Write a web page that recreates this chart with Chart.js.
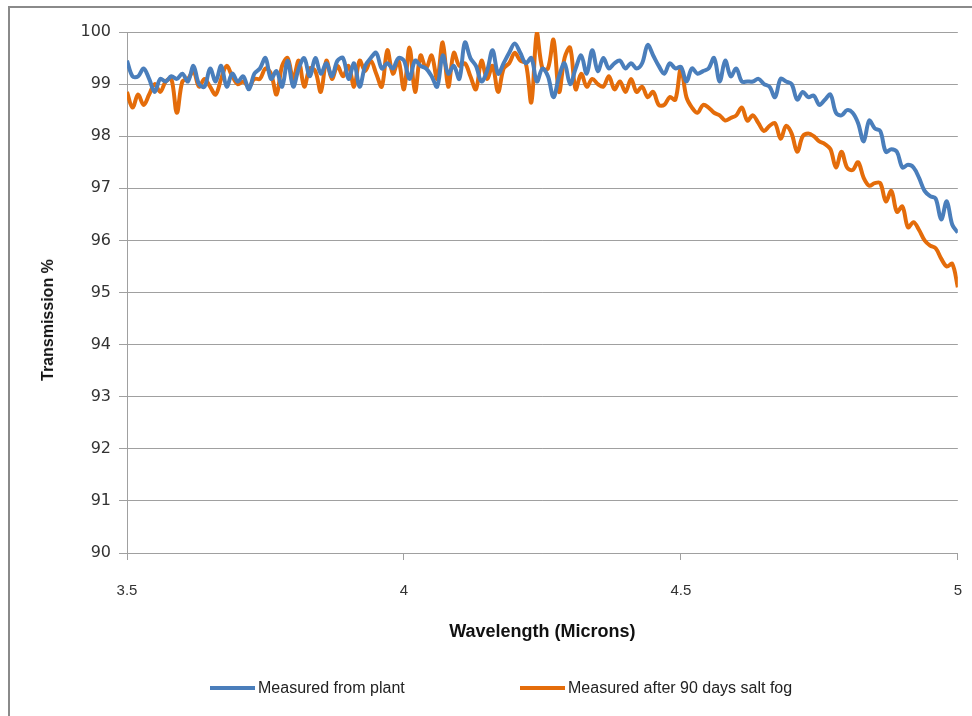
<!DOCTYPE html>
<html>
<head>
<meta charset="utf-8">
<script src="https://cdn.jsdelivr.net/npm/chart.js@4.4.1/dist/chart.umd.min.js"></script>
<style>
  html, body { margin: 0; padding: 0; background: #fff; overflow: hidden; }
  #wrap { position: relative; width: 972px; height: 716px; overflow: hidden; }
  #frame { position: absolute; left: 8px; top: 6px; width: 1000px; height: 800px;
           border: 2px solid #8a8a8a; box-sizing: border-box; }
  canvas { position: absolute; left: 0; top: 0; }
  .leg { position: absolute; top: 678px; height: 20px; display: flex; align-items: center;
         font-family: "Liberation Sans", Arial, sans-serif; font-size: 16px; color: #222; }
  .leg span.sw { display: inline-block; width: 45px; height: 4px; margin-right: 3px; }
  #titulo-y { position: absolute; left: 48px; top: 320px; transform: translate(-50%, -50%) rotate(-90deg);
              white-space: nowrap; font-family: "Liberation Sans", Arial, sans-serif; font-size: 16px;
              font-weight: bold; color: #111; }
</style>
</head>
<body>
<div id="wrap">
  <div id="frame"></div>
  <canvas id="grafico" width="984" height="716"></canvas>
  <div id="titulo-y">Transmission %</div>
  <div class="leg" style="left:210px"><span class="sw" style="background:#4a7ebb"></span>Measured from plant</div>
  <div class="leg" style="left:520px"><span class="sw" style="background:#e46c0a"></span>Measured after 90 days salt fog</div>
</div>
<script>
// comprimento de onda: 3.50 a 5.00 µm, passo 0.01
const wavelengths = Array.from({ length: 151 }, (_, i) => +(3.5 + i * 0.01).toFixed(2));

const xTicks = [3.5, 4, 4.5, 5];
const yTicks = [90, 91, 92, 93, 94, 95, 96, 97, 98, 99, 100];

// Medido na planta (azul)
const fromPlant = [
  99.45, 99.15, 99.15, 99.3, 99.1, 98.85, 99.1, 99.05, 99.15, 99.1,
  99.2, 99.05, 99.35, 99.0, 98.95, 99.3, 99.05, 99.35, 98.95, 99.2,
  99.05, 99.15, 98.9, 99.2, 99.3, 99.5, 99.1, 99.25, 98.95, 99.45,
  98.95, 99.3, 99.5, 99.15, 99.5, 99.2, 99.4, 99.15, 99.45, 99.5,
  99.1, 99.4, 98.95, 99.35, 99.5, 99.6, 99.3, 99.4, 99.3, 99.5,
  99.45, 99.1, 99.45, 99.35, 99.3, 99.15, 98.95, 99.55, 99.2, 99.35,
  99.1, 99.8, 99.5, 99.35, 99.05, 99.25, 99.65, 99.2, 99.4, 99.6,
  99.78, 99.6, 99.4, 99.5, 99.05, 99.3, 99.15, 98.75, 99.15, 99.4,
  99.0, 99.3, 99.55, 99.2, 99.65, 99.25, 99.5, 99.3, 99.4, 99.45,
  99.3, 99.4, 99.3, 99.4, 99.75, 99.55, 99.35, 99.2, 99.4, 99.3,
  99.33, 99.05, 99.3, 99.2, 99.25, 99.3, 99.5, 99.05, 99.45, 99.15,
  99.3, 99.05, 99.05, 99.05, 99.1, 99.0, 98.95, 98.75, 99.1, 99.05,
  99.0, 98.7, 98.85, 98.75, 98.78, 98.6, 98.7, 98.8, 98.45, 98.4,
  98.5, 98.45, 98.25, 97.9, 98.3, 98.15, 98.1, 97.7, 97.75, 97.7,
  97.4, 97.45, 97.4, 97.2, 96.95, 96.85, 96.8, 96.4, 96.75, 96.3,
  96.15
];

// Medido após 90 dias de névoa salina (laranja)
const afterSaltFog = [
  98.85, 98.55, 98.8, 98.6, 98.8, 99.0, 98.85, 99.05, 99.1, 98.45,
  99.05, 99.1, 99.25, 98.95, 99.1, 98.95, 98.8, 99.1, 99.35, 99.15,
  99.0, 99.05, 98.95, 99.1, 99.1, 99.3, 99.2, 98.8, 99.35, 99.5,
  99.1, 99.45, 98.95, 99.3, 99.25, 98.85, 99.45, 99.1, 99.35, 99.15,
  99.35, 98.95, 99.45, 99.25, 99.45, 99.2, 98.95, 99.65, 99.2, 99.45,
  98.9, 99.7, 98.85, 99.55, 99.3, 99.55, 99.1, 99.8, 98.95, 99.6,
  99.35, 99.4, 99.15, 98.9, 99.45, 99.1, 99.35, 98.85, 99.3, 99.4,
  99.6, 99.45, 99.4, 98.65, 99.98, 99.3, 99.3, 99.85, 98.85, 99.5,
  99.7, 98.9, 99.2, 98.95, 99.1, 99.0, 98.95, 99.15, 98.9, 99.05,
  98.85, 99.1, 98.85, 98.95, 98.75, 98.85, 98.6, 98.6, 98.75, 98.7,
  99.3, 98.75, 98.55, 98.45, 98.6, 98.55, 98.45, 98.4, 98.3, 98.35,
  98.4, 98.55, 98.3, 98.4, 98.25, 98.1, 98.2, 98.25, 97.95, 98.2,
  98.05, 97.7, 98.0, 98.05, 98.0, 97.9, 97.85, 97.75, 97.4, 97.7,
  97.4, 97.35, 97.5, 97.2, 97.05, 97.1, 97.1, 96.75, 96.95, 96.55,
  96.65, 96.25, 96.35, 96.2, 96.0, 95.9, 95.85, 95.65, 95.5, 95.55,
  95.1
];

const pontos = serie => serie.map((v, i) => ({ x: wavelengths[i], y: v }));
const corGrade = '#a0a0a0';

new Chart(document.getElementById('grafico').getContext('2d'), {
  type: 'line',
  data: {
    datasets: [
      { label: 'Measured from plant', data: pontos(fromPlant), borderColor: '#4a7ebb', borderWidth: 4,
        pointRadius: 0, tension: 0.35, fill: false },
      { label: 'Measured after 90 days salt fog', data: pontos(afterSaltFog), borderColor: '#e46c0a', borderWidth: 4,
        pointRadius: 0, tension: 0.35, fill: false }
    ]
  },
  options: {
    responsive: false,
    animation: false,
    layout: { padding: { left: 0, right: 0, top: 32, bottom: 68 } },
    plugins: { legend: { display: false }, tooltip: { enabled: false } },
    scales: {
      x: {
        type: 'linear',
        min: 3.5, max: 5,
        afterBuildTicks: s => { s.ticks = xTicks.map(v => ({ value: v })); },
        afterFit: s => { s.height = 95; },
        grid: { drawOnChartArea: false, drawTicks: true, tickLength: 7, color: corGrade },
        border: { color: corGrade, width: 1 },
        ticks: { padding: 22, color: '#333', font: { family: 'Liberation Sans', size: 15 },
                 callback: v => String(v) },
        title: { display: true, text: 'Wavelength (Microns)', color: '#111',
                 font: { family: 'Liberation Sans', size: 18, weight: 'bold' }, padding: { top: 0, bottom: 5 } }
      },
      y: {
        min: 90, max: 100,
        afterBuildTicks: s => { s.ticks = yTicks.map(v => ({ value: v })); },
        afterFit: s => { s.width = 127; },
        grid: { color: corGrade, tickLength: 8 },
        border: { color: corGrade, width: 1 },
        ticks: { padding: 8, color: '#333', font: { family: 'DejaVu Sans', size: 16 } }
      }
    }
  }
});
</script>
</body>
</html>
